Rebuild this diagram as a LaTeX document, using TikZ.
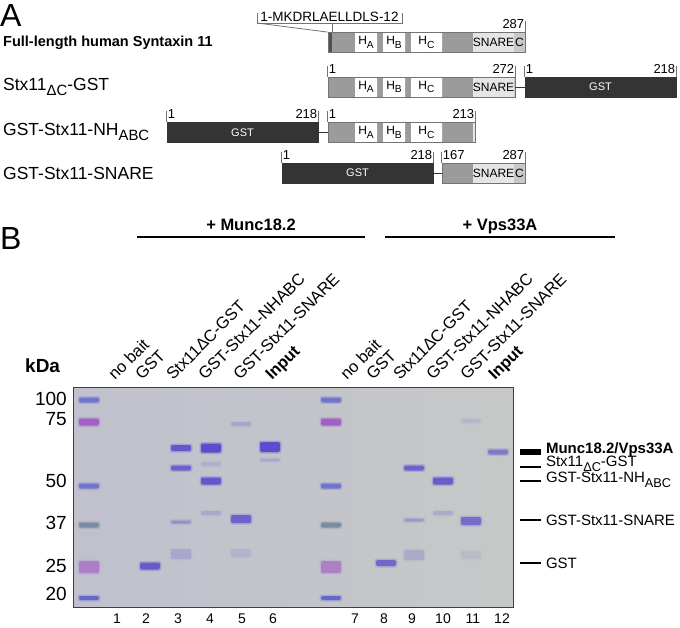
\documentclass[tikz,border=0pt]{standalone}
\usepackage{fontspec}
\setmainfont{Liberation Sans}
\usepackage{graphicx}
\usetikzlibrary{positioning,calc}
\definecolor{DomainClr}{RGB}{155,155,155}
\definecolor{EdgeClr}{RGB}{115,115,115}
\definecolor{SnareClr}{RGB}{229,229,229}
\definecolor{CtermClr}{RGB}{200,200,200}
\definecolor{GstClr}{RGB}{52,52,52}
\definecolor{GelClr}{RGB}{198,200,200}
\definecolor{GelLeftClr}{RGB}{192,193,205}
\definecolor{BandClr}{RGB}{92,72,205}
\definecolor{MarkBlueClr}{RGB}{92,98,205}
\definecolor{MarkPinkClr}{RGB}{158,78,196}
\definecolor{MarkTealClr}{RGB}{100,124,150}

\newcommand{\fsz}[1]{\fontsize{#1}{#1}\selectfont}
\newcommand{\lowr}[1]{\raisebox{-0.3em}{\scalebox{0.85}{#1}}}

\newcommand{\stxdomains}[3]{% y, from, to
  \begin{scope}
    \clip (#2,#1-10) rectangle (#3,#1+10);
    \fill[DomainClr] (#2,#1-10) rectangle (#3,#1+10);
    \fill[white] (355,#1-10) rectangle (377,#1+10)
                 (383,#1-10) rectangle (405,#1+10)
                 (411,#1-10) rectangle (442,#1+10);
    \fill[SnareClr] (473,#1-10) rectangle (514,#1+10);
    \fill[CtermClr] (514,#1-10) rectangle (525,#1+10);
  \end{scope}}
\newcommand{\helixlabs}[2]{% name, y
  \node[domlab] (#1-ha) at (366,#2) {H\lowr{A}};
  \node[domlab] (#1-hb) at (394,#2) {H\lowr{B}};
  \node[domlab] (#1-hc) at (426.5,#2) {H\lowr{C}};}
\newcommand{\snarelab}[2]{\node[domlab] (#1-sn) at (493.5,#2) {SNARE};}
\newcommand{\ctermlab}[2]{\node[domlab] (#1-ct) at (519.5,#2) {C};}

\newcommand{\band}[5]{% colour, x, y, opacity, half height
  \pgfmathsetmacro\bandsoft{0.3*#4}
  \fill[#1,opacity=\bandsoft,rounded corners=2.5pt] (#2-11.5,#3-#5-1.5) rectangle (#2+11.5,#3+#5+1.5);
  \fill[#1,opacity=#4,rounded corners=2pt] (#2-10,#3-#5) rectangle (#2+10,#3+#5);}

\tikzset{
  stxbar/.style={draw=EdgeClr,line width=0.8pt,minimum height=20pt,inner sep=0pt},
  gstbar/.style={fill=GstClr,draw=GstClr,line width=0.8pt,minimum height=20pt,inner sep=0pt,text=white,font=\fsz{11}},
  domlab/.style={font=\fsz{12},inner sep=0pt},
  numlab/.style={font=\fsz{13},inner sep=1pt},
  rowlab/.style={font=\fsz{17.5},anchor=west,inner sep=0pt},
  tick/.style={draw=EdgeClr,line width=0.8pt},
  linker/.style={draw=GstClr,line width=0.8pt},
  panlab/.style={font=\fsz{32},anchor=west,inner sep=0pt},
  condlab/.style={font=\fsz{16.5}\bfseries,anchor=base,inner sep=0pt},
  condline/.style={line width=2.2pt},
  lanelab/.style={font=\fsz{16.5},rotate=45,anchor=base west,inner sep=0pt},
  lanenum/.style={font=\fsz{14},inner sep=0pt},
  kdalab/.style={font=\fsz{19},anchor=east,inner sep=0pt},
  gellab/.style={font=\fsz{15},anchor=west,inner sep=0pt,outer sep=5pt},
  mkline/.style={line width=1.4pt},
}

\begin{document}
\begin{tikzpicture}[x=1pt,y=-1pt]
\useasboundingbox (0,0) rectangle (680,627);

% panel A
\node[panlab] (labA) at (0,15) {A};

\stxdomains{42.5}{328}{525}
\helixlabs{fl}{42.5}\snarelab{fl}{42.5}\ctermlab{fl}{42.5}
\fill[EdgeClr!70!black] (328,32.5) rectangle (332,52.5);
\node[stxbar,minimum width=197pt] (fl) at (426.5,42.5) {};
\node[rowlab,font=\fsz{14.5}\bfseries] (fl-lab) at (3,43) {Full-length human Syntaxin 11};
\draw[tick] (fl.north east) -- ++(0,-11);
\node[numlab,anchor=south east] (fl-end) at ([yshift=2pt]fl.north east) {287};
\node[font=\fsz{13.5},inner sep=0pt] (motif) at (329.5,17) {1-MKDRLAELLDLS-12};
\coordinate (motif-l) at (257,23);
\coordinate (motif-r) at (402,23);
\coordinate (motif-m) at (332,23);
\draw[tick] ([yshift=10pt]motif-l) -- (motif-l) -- (motif-r) -- ([yshift=10pt]motif-r);
\draw[tick] (motif-l) -- (fl.north west);
\draw[tick] (motif-m) -- (motif-m |- fl.north);

\stxdomains{87}{328}{515}
\helixlabs{dc}{87}\snarelab{dc}{87}
\node[stxbar,minimum width=187pt] (dc) at (421.5,87) {};
\node[gstbar,minimum width=151pt] (dc-gst) at (600.5,87) {GST};
\draw[linker] (dc.east) -- (dc-gst.west);
\node[rowlab] (dc-lab) at (3,87) {Stx11\lowr{ΔC}-GST};
\foreach \n in {dc.north west,dc.north east,dc-gst.north west,dc-gst.north east}
  \draw[tick] (\n) -- ++(0,-11);
\node[numlab,anchor=south west] (dc-a) at ([yshift=2pt]dc.north west) {1};
\node[numlab,anchor=south east] (dc-b) at ([yshift=2pt]dc.north east) {272};
\node[numlab,anchor=south west] (dc-c) at ([yshift=2pt]dc-gst.north west) {1};
\node[numlab,anchor=south east] (dc-d) at ([yshift=2pt]dc-gst.north east) {218};

\stxdomains{132.5}{328}{475}
\helixlabs{nh}{132.5}
\node[gstbar,minimum width=151pt] (nh-gst) at (242.5,132.5) {GST};
\node[stxbar,minimum width=147pt] (nh) at (401.5,132.5) {};
\draw[linker] (nh-gst.east) -- (nh.west);
\node[rowlab] (nh-lab) at (3,132) {GST-Stx11-NH\lowr{ABC}};
\foreach \n in {nh-gst.north west,nh-gst.north east,nh.north west,nh.north east}
  \draw[tick] (\n) -- ++(0,-11);
\node[numlab,anchor=south west] (nh-a) at ([yshift=2pt]nh-gst.north west) {1};
\node[numlab,anchor=south east] (nh-b) at ([yshift=2pt]nh-gst.north east) {218};
\node[numlab,anchor=south west] (nh-c) at ([yshift=2pt]nh.north west) {1};
\node[numlab,anchor=south east] (nh-d) at ([yshift=2pt]nh.north east) {213};

\stxdomains{173}{442}{525}
\snarelab{sn}{173}\ctermlab{sn}{173}
\node[gstbar,minimum width=151pt] (sn-gst) at (357.5,173) {GST};
\node[stxbar,minimum width=83pt] (sn) at (483.5,173) {};
\draw[linker] (sn-gst.east) -- (sn.west);
\node[rowlab] (sn-lab) at (3,173) {GST-Stx11-SNARE};
\foreach \n in {sn-gst.north west,sn-gst.north east,sn.north west,sn.north east}
  \draw[tick] (\n) -- ++(0,-11);
\node[numlab,anchor=south west] (sn-a) at ([yshift=2pt]sn-gst.north west) {1};
\node[numlab,anchor=south east] (sn-b) at ([yshift=2pt]sn-gst.north east) {218};
\node[numlab,anchor=south west] (sn-c) at ([yshift=2pt]sn.north west) {167};
\node[numlab,anchor=south east] (sn-d) at ([yshift=2pt]sn.north east) {287};

% panel B
\node[panlab] (labB) at (0,238) {B};
\node[condlab] (munc) at (251,230) {+ Munc18.2};
\coordinate (munc-l) at (137,237);
\coordinate (munc-r) at (365,237);
\draw[condline] (munc-l) -- (munc-r);
\node[condlab] (vps) at (500,230) {+ Vps33A};
\coordinate (vps-l) at (385,237);
\coordinate (vps-r) at (615,237);
\draw[condline] (vps-l) -- (vps-r);

\node[lanelab] (lt1) at (115,381) {no bait};
\node[lanelab] (lt2) at (142,381) {GST};
\node[lanelab] (lt3) at (173,381) {Stx11ΔC-GST};
\node[lanelab] (lt4) at (205,381) {GST-Stx11-NHABC};
\node[lanelab] (lt5) at (240,381) {GST-Stx11-SNARE};
\node[lanelab,font=\fsz{16.5}\bfseries] (lt6) at (272,381) {Input};
\node[lanelab] (lt7) at (347,381) {no bait};
\node[lanelab] (lt8) at (373,381) {GST};
\node[lanelab] (lt9) at (400,381) {Stx11ΔC-GST};
\node[lanelab] (lt10) at (433,381) {GST-Stx11-NHABC};
\node[lanelab] (lt11) at (467,381) {GST-Stx11-SNARE};
\node[lanelab,font=\fsz{16.5}\bfseries] (lt12) at (495,381) {Input};

\node[kdalab,font=\fsz{19}\bfseries,anchor=west] (kda) at (25,366) {kDa};
\node[draw=black!75,line width=0.9pt,left color=GelLeftClr,right color=GelClr,
      minimum width=440pt,minimum height=220pt,inner sep=0pt] (gel) at (293,497) {};

% markers
\foreach \mx in {89,331}{
  \band{MarkBlueClr}{\mx}{400}{0.75}{2.5}
  \band{MarkPinkClr}{\mx}{422}{0.8}{3.5}
  \band{MarkBlueClr}{\mx}{486}{0.75}{2.5}
  \band{MarkTealClr}{\mx}{525}{0.7}{2.5}
  \band{MarkPinkClr}{\mx}{567}{0.5}{6}
  \band{MarkBlueClr}{\mx}{598}{0.9}{2}
}
\node[kdalab] (kd100) at (67,399) {100};
\node[kdalab] (kd75) at (67,419) {75};
\node[kdalab] (kd50) at (67,481) {50};
\node[kdalab] (kd37) at (67,523) {37};
\node[kdalab] (kd25) at (67,566) {25};
\node[kdalab] (kd20) at (67,594) {20};

% lanes
\band{BandClr}{150}{566}{0.8}{3.5}
\band{BandClr}{181}{448}{0.85}{3}
\band{BandClr}{181}{468}{0.75}{2.5}
\band{BandClr}{181}{522}{0.35}{1.5}
\band{BandClr}{181}{554}{0.18}{5}
\band{BandClr}{211}{448}{0.95}{4.5}
\band{BandClr}{211}{464}{0.12}{2}
\band{BandClr}{211}{481}{0.85}{3.5}
\band{BandClr}{211}{513}{0.18}{2}
\band{BandClr}{241}{424}{0.2}{2}
\band{BandClr}{241}{519}{0.75}{4}
\band{BandClr}{241}{553}{0.1}{4}
\band{BandClr}{270}{447}{0.95}{5}
\band{BandClr}{270}{460}{0.18}{1.5}
\band{BandClr}{386}{563}{0.7}{3}
\band{BandClr}{414}{468}{0.75}{2.5}
\band{BandClr}{414}{520}{0.3}{1.5}
\band{BandClr}{414}{555}{0.18}{5}
\band{BandClr}{443}{481}{0.8}{3.5}
\band{BandClr}{443}{513}{0.18}{2}
\band{BandClr}{471}{421}{0.1}{2}
\band{BandClr}{471}{521}{0.65}{4}
\band{BandClr}{471}{555}{0.07}{4}
\band{BandClr}{498}{452}{0.55}{2.5}

\node[lanenum] (n1) at (117,619) {1};
\node[lanenum] (n2) at (146,619) {2};
\node[lanenum] (n3) at (178,619) {3};
\node[lanenum] (n4) at (210,619) {4};
\node[lanenum] (n5) at (242,619) {5};
\node[lanenum] (n6) at (273,619) {6};
\node[lanenum] (n7) at (355,619) {7};
\node[lanenum] (n8) at (384,619) {8};
\node[lanenum] (n9) at (412,619) {9};
\node[lanenum] (n10) at (443,619) {10};
\node[lanenum] (n11) at (473,619) {11};
\node[lanenum] (n12) at (502,619) {12};

% bands on the right
\coordinate (mk1) at (520,452);
\coordinate (mk2) at (520,467);
\coordinate (mk3) at (520,481);
\coordinate (mk4) at (520,520);
\coordinate (mk5) at (520,563);
\node[gellab,font=\fsz{15}\bfseries] (gl1) at (541,450) {Munc18.2/Vps33A};
\node[gellab] (gl2) at (541,464) {Stx11\lowr{ΔC}-GST};
\node[gellab] (gl3) at (541,480) {GST-Stx11-NH\lowr{ABC}};
\node[gellab] (gl4) at (541,520) {GST-Stx11-SNARE};
\node[gellab] (gl5) at (541,563) {GST};
\draw[line width=6pt] (mk1) -- (mk1 -| gl1.west);
\foreach \k in {2,...,5}
  \draw[mkline] (mk\k) -- (mk\k -| gl\k.west);
\end{tikzpicture}
\end{document}
